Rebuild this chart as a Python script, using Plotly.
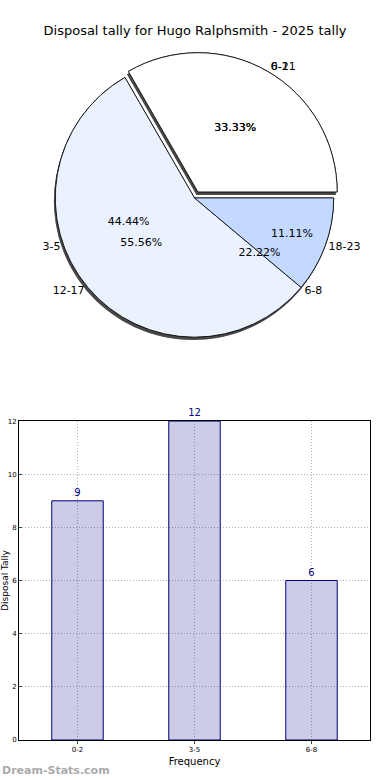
import plotly.graph_objects as go

title = "Disposal tally for Hugo Ralphsmith - 2025 tally"
labels_a = ["0-2", "3-5", "6-8"]
values_a = [9, 12, 6]
labels_b = ["6-11", "12-17", "18-23"]
values_b = [9, 15, 3]
pull = [0.05, 0, 0]
slice_colors = ["#FFFFFF", "#EBF2FF", "#C3D9FF"]

bar_labels = ["0-2", "3-5", "6-8"]
bar_values = [9, 12, 6]

fig = go.Figure()

dom_x = [0.08, 0.92]
dom_y = [0.535, 0.93]
sh = 0.004

def pie(labels, values, dx=0.0, dy=0.0, colors=None, line="#000000", text="none", pos="inside", fill=True, font_color="#000000"):
    return go.Pie(
        labels=labels, values=values, sort=False, direction="counterclockwise",
        rotation=-30, pull=pull,
        domain=dict(x=[dom_x[0] + dx, dom_x[1] + dx], y=[dom_y[0] + dy, dom_y[1] + dy]),
        marker=dict(colors=colors, line=dict(color=line, width=0.8 if fill else 0)),
        textinfo=text, textposition=pos, insidetextorientation="horizontal",
        textfont=dict(family="DejaVu Sans", size=11, color=font_color),
        showlegend=False, hoverinfo="skip",
    )

shadow_cols = ["rgba(60,60,60,0.75)"] * 3
clear_cols = ["rgba(0,0,0,0)"] * 3

fig.add_trace(pie(labels_a, values_a, -sh, -sh, shadow_cols, "rgba(0,0,0,0)"))
fig.add_trace(pie(labels_a, values_a, 0, 0, slice_colors))
fig.add_trace(pie(labels_b, values_b, -sh, -sh, shadow_cols, "rgba(0,0,0,0)"))
fig.add_trace(pie(labels_b, values_b, 0, 0, slice_colors))
fig.add_trace(pie(labels_a, values_a, 0, 0, clear_cols, "rgba(0,0,0,0)", "percent", "inside", fill=False))
fig.add_trace(pie(labels_b, values_b, 0, 0, clear_cols, "rgba(0,0,0,0)", "percent", "inside", fill=False))

fig.update_traces(texttemplate="%{percent:.2%}", selector=dict(textinfo="percent"))

fig.add_trace(go.Bar(
    x=bar_labels, y=bar_values, width=0.44,
    marker=dict(color="rgba(0,0,128,0.2)", line=dict(color="#000080", width=1)),
    text=[str(v) for v in bar_values], textposition="outside",
    textfont=dict(family="DejaVu Sans", size=10, color="#000080"),
    cliponaxis=False, showlegend=False, hoverinfo="skip",
))

grid = dict(showgrid=True, gridcolor="#b0b0b0", griddash="1px,2px", gridwidth=1, automargin=False,
            showline=True, linecolor="black", mirror=True, tickfont=dict(size=7))

fig.update_layout(
    width=390, height=780,
    margin=dict(l=19, r=20, t=0, b=40, autoexpand=False),
    paper_bgcolor="white", plot_bgcolor="white",
    font=dict(family="DejaVu Sans", color="#000000"),
    title=dict(text=title, x=0.5, xanchor="center", y=1 - 30 / 780, yanchor="middle",
               font=dict(size=13, family="DejaVu Sans")),
    xaxis=dict(domain=[0, 1], range=[-0.5, 2.5], ticks="outside", ticklen=3,
               title=dict(text="Frequency", font=dict(size=10), standoff=4), **grid),
    yaxis=dict(domain=[0, 0.431], range=[0, 12], dtick=2, ticks="inside", ticklen=3, zeroline=False,
               title=dict(text="Disposal Tally", font=dict(size=9), standoff=6), **grid),
    annotations=[dict(text="<b>Dream-Stats.com</b>", xref="paper", yref="paper", x=-0.054, y=-30 / 740,
                      xanchor="left", yanchor="middle", showarrow=False,
                      font=dict(size=11, color="#aaaaaa"))],
)

# outside slice labels
fig.add_trace(pie(labels_a, values_a, 0, 0, clear_cols, "rgba(0,0,0,0)", "label", "outside", fill=False))
fig.add_trace(pie(labels_b, values_b, 0, 0, clear_cols, "rgba(0,0,0,0)", "label", "outside", fill=False))

fig.write_html("out.html", config={"displayModeBar": False},
               post_script="document.body.style.margin='0px';")
